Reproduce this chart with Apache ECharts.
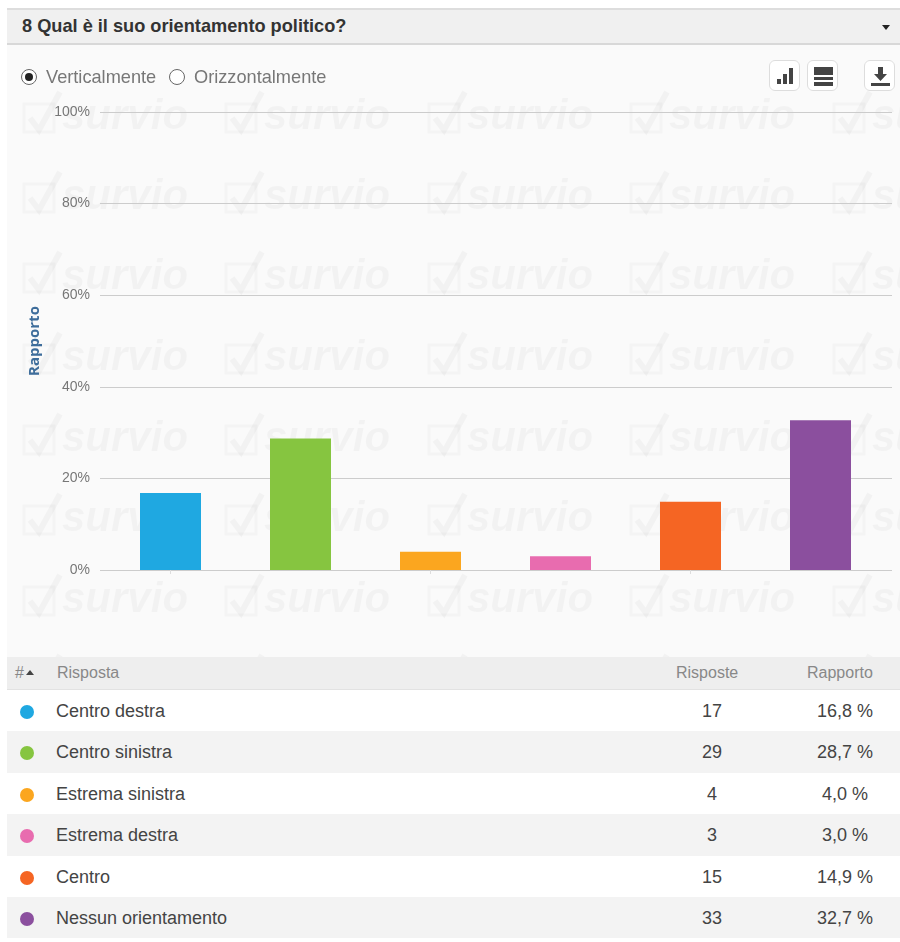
<!DOCTYPE html>
<html>
<head>
<meta charset="utf-8">
<title>Qual è il suo orientamento politico?</title>
<script src="https://cdn.jsdelivr.net/npm/echarts@6/dist/echarts.min.js"></script>
<style>
html, body { margin: 0; padding: 0; background: #fff; }
body { width: 900px; height: 942px; position: relative; overflow: hidden; font-family: "Liberation Sans", Arial, sans-serif; }
.bar-head { position: absolute; left: 7px; top: 8px; width: 893px; box-sizing: border-box; height: 37px; background: #f0f0f0; border-top: 2px solid #ddd; border-bottom: 2px solid #d8d8d8; font-weight: bold; font-size: 18.2px; color: #333; line-height: 33px; padding-left: 15px; }
.caret { position: absolute; left: 882px; top: 25px; width: 0; height: 0; border-left: 4px solid transparent; border-right: 4px solid transparent; border-top: 5px solid #222; }
#chart { position: absolute; left: 7px; top: 45px; width: 893px; height: 612px; }
.radio { position: absolute; top: 69px; width: 16px; height: 16px; border: 1px solid #666; border-radius: 50%; box-sizing: border-box; background: #fff; }
.radio.on::after { content: ""; position: absolute; left: 3px; top: 3px; width: 8px; height: 8px; border-radius: 50%; background: #222; }
.radio-label { position: absolute; top: 67px; font-size: 18.2px; line-height: 20px; color: #777; }
.btn { position: absolute; top: 60px; width: 31px; height: 31px; box-sizing: border-box; border: 1px solid #ddd; border-radius: 6px; background: #fff; }
.btn svg { display: block; }
#table { position: absolute; left: 7px; top: 657px; width: 893px; color: #444; }
.thead { height: 32px; background: #eee; border-bottom: 1px solid #e2e2e2; color: #888; font-size: 16px; line-height: 32px; position: relative; }
.row { height: 41.4px; position: relative; font-size: 18px; line-height: 42px; }
.row:nth-child(even) { background: #f3f3f3; }
.row:nth-child(odd) { background: #fff; }
.cell { position: absolute; white-space: nowrap; }
.dot { position: absolute; left: 13px; top: 15px; width: 14px; height: 14px; border-radius: 50%; }
</style>
</head>
<body>
<div class="bar-head">8 Qual è il suo orientamento politico?</div>
<div class="caret"></div>
<div id="chart"></div>
<div class="radio on" style="left:21px"></div>
<div class="radio-label" style="left:46px">Verticalmente</div>
<div class="radio" style="left:169px"></div>
<div class="radio-label" style="left:194px">Orizzontalmente</div>
<div class="btn" style="left:769px"><svg width="29" height="29"><rect x="7" y="18" width="4" height="5" fill="#444"/><rect x="13" y="13" width="4" height="10" fill="#444"/><rect x="19" y="7" width="4" height="16" fill="#444"/></svg></div>
<div class="btn" style="left:807px"><svg width="29" height="29"><rect x="6" y="6" width="19" height="8" fill="#444"/><rect x="6" y="16" width="19" height="3" fill="#444"/><rect x="6" y="21" width="19" height="4" fill="#444"/></svg></div>
<div class="btn" style="left:864px"><svg width="29" height="29"><path d="M13 6h5v7h4l-6.500 7-6.500-7h4z" fill="#444"/><rect x="6" y="22" width="19" height="3" fill="#444"/></svg></div>
<div id="table">
  <div class="thead">
    <span class="cell" style="left:8px">#</span>
    <span class="cell" style="left:19px;top:13px;width:0;height:0;border-left:4px solid transparent;border-right:4px solid transparent;border-bottom:5px solid #444"></span>
    <span class="cell" style="left:50px">Risposta</span>
    <span class="cell" style="left:669px">Risposte</span>
    <span class="cell" style="left:800px">Rapporto</span>
  </div>
  <div id="rows"></div>
</div>
<script>
const categories = ['Centro destra', 'Centro sinistra', 'Estrema sinistra', 'Estrema destra', 'Centro', 'Nessun orientamento']
const answers = [17, 29, 4, 3, 15, 33]
const ratios = [16.8, 28.7, 4.0, 3.0, 14.9, 32.7]
const colors = ['#1fa8e1', '#86c540', '#fba61f', '#e86caf', '#f56523', '#8b4f9e']
const yTicks = [0, 20, 40, 60, 80, 100]

// table under the chart
const rows = document.getElementById('rows')
categories.forEach((name, i) => {
  const row = document.createElement('div')
  row.className = 'row'
  row.innerHTML = '<span class="dot" style="background:' + colors[i] + '"></span>' +
    '<span class="cell" style="left:49px">' + name + '</span>' +
    '<span class="cell" style="left:655px;width:100px;text-align:center">' + answers[i] + '</span>' +
    '<span class="cell" style="left:788px;width:100px;text-align:center">' + ratios[i].toFixed(1).replace('.', ',') + ' %</span>'
  rows.appendChild(row)
})

// repeated survio watermark behind the plot
const wmCols = [17, 219, 422, 624, 827]
const wmRows = [59, 139, 219, 300, 381, 461, 542, 622]
const watermark = []
wmRows.forEach(y => {
  wmCols.forEach(x => {
    watermark.push({
      type: 'group',
      x: x,
      y: y,
      silent: true,
      children: [
        { type: 'rect', z: -1, shape: { x: 0, y: 0, width: 30, height: 28 }, style: { fill: 'none', stroke: 'rgba(0,0,0,0.025)', lineWidth: 3 } },
        { type: 'polyline', z: -1, shape: { points: [[6, 14], [15, 26], [36, -12]] }, style: { fill: 'none', stroke: 'rgba(0,0,0,0.03)', lineWidth: 6 } },
        { type: 'text', z: -1, x: 38, y: -8, style: { text: 'survio', fill: 'rgba(0,0,0,0.03)', font: 'italic bold 42px "Liberation Sans"' } }
      ]
    })
  })
})

const chart = echarts.init(document.getElementById('chart'), null, { renderer: 'canvas' })
chart.setOption({
  backgroundColor: '#fafafa',
  animation: false,
  graphic: watermark,
  grid: [
    { left: 93, top: 67, width: 792, height: 458 },
    { left: 98.5, top: 67, width: 780, height: 458 }
  ],
  xAxis: [
    { gridIndex: 0, type: 'value', show: false, min: 0, max: 1 },
    {
      gridIndex: 1,
      type: 'category',
      data: categories,
      axisLine: { show: false },
      axisLabel: { show: false },
      axisTick: { show: true, alignWithLabel: true, length: 4, lineStyle: { color: '#ddd' } }
    }
  ],
  yAxis: [
    {
      gridIndex: 0,
      type: 'value',
      min: yTicks[0],
      max: yTicks[yTicks.length - 1],
      interval: 20,
      name: 'Rapporto',
      nameLocation: 'middle',
      nameGap: 58,
      nameTextStyle: { color: '#3e6d9b', fontSize: 15, fontWeight: 'bold', fontFamily: 'Open Sans' },
      axisLine: { show: false },
      axisTick: { show: false },
      axisLabel: { formatter: '{value}%', color: '#777', fontSize: 14, margin: 10, fontFamily: 'Liberation Sans' },
      splitLine: { lineStyle: { color: '#ccc', width: 1 } }
    },
    { gridIndex: 1, type: 'value', min: 0, max: 100, show: false }
  ],
  series: [
    {
      type: 'bar',
      xAxisIndex: 1,
      yAxisIndex: 1,
      barWidth: 61,
      z: 3,
      data: ratios.map((v, i) => ({ value: v, itemStyle: { color: colors[i] } }))
    }
  ]
})
</script>
</body>
</html>
